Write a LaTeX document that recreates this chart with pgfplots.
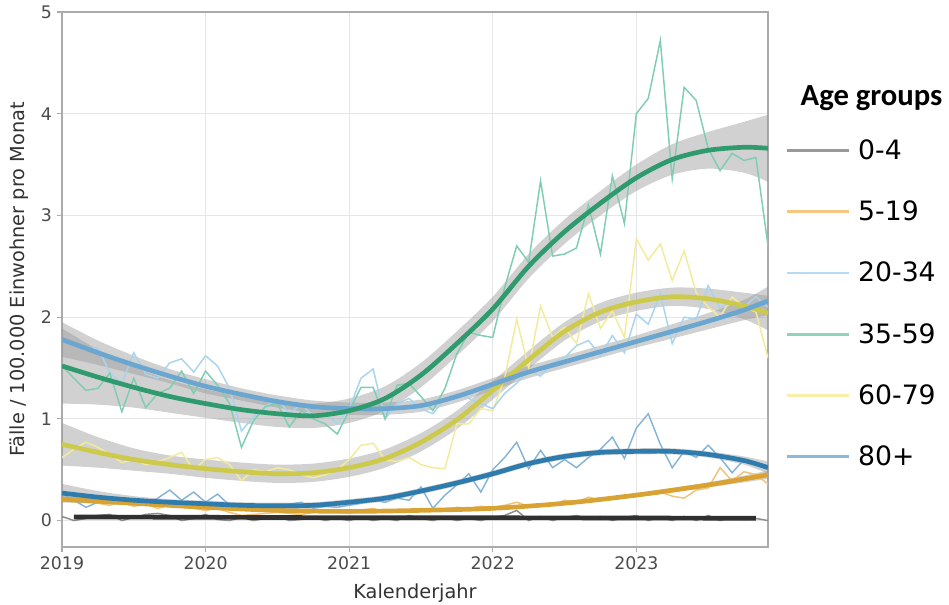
\documentclass[border=0pt]{standalone}
\usepackage{pgfplots}
\pgfplotsset{compat=1.18}
\usepackage{pgfplotstable}
\usepgfplotslibrary{fillbetween}
\usepackage{fontspec}
\setmainfont{DejaVu Sans}
\newfontfamily\titlefont{Carlito}

\definecolor{raw04}{HTML}{8C8C8C}
\definecolor{sm04}{HTML}{303030}
\definecolor{leg04}{HTML}{999999}
\definecolor{raw519}{HTML}{F2C27A}
\definecolor{sm519}{HTML}{D9A334}
\definecolor{leg519}{HTML}{F5C67E}
\definecolor{raw2034}{HTML}{A8D4EE}
\definecolor{sm2034}{HTML}{6AA6CF}
\definecolor{leg2034}{HTML}{B5DBF2}
\definecolor{raw3559}{HTML}{7FCDB2}
\definecolor{sm3559}{HTML}{2F9A6E}
\definecolor{leg3559}{HTML}{8FD3BC}
\definecolor{raw6079}{HTML}{F3EB9A}
\definecolor{sm6079}{HTML}{CDC94A}
\definecolor{leg6079}{HTML}{F7EFAA}
\definecolor{raw80}{HTML}{86B4D6}
\definecolor{sm80}{HTML}{2E7BAE}
\definecolor{leg80}{HTML}{8CBADC}
\definecolor{bandgrey}{HTML}{999999}
\definecolor{gridgrey}{HTML}{E6E6E6}
\definecolor{axisgrey}{HTML}{ABABAB}
\definecolor{labelgrey}{HTML}{4A4A4A}

% monthly values, Faelle / 100.000 Einwohner
\pgfplotstableread{
x        a04  a519 a2034 a3559 a6079 a80
2019.000 0.04 0.22 1.78 1.52 0.62 0.26
2019.083 0.00 0.18 1.72 1.40 0.70 0.20
2019.167 0.02 0.20 1.68 1.28 0.77 0.13
2019.250 0.05 0.17 1.70 1.30 0.72 0.18
2019.333 0.06 0.15 1.45 1.45 0.65 0.20
2019.417 0.00 0.18 1.35 1.07 0.57 0.16
2019.500 0.03 0.14 1.65 1.40 0.60 0.18
2019.583 0.06 0.16 1.44 1.11 0.55 0.15
2019.667 0.07 0.12 1.40 1.25 0.58 0.22
2019.750 0.05 0.15 1.55 1.30 0.62 0.30
2019.833 0.00 0.13 1.59 1.47 0.67 0.20
2019.917 0.02 0.12 1.46 1.25 0.50 0.28
2020.000 0.06 0.10 1.62 1.47 0.60 0.18
2020.083 0.01 0.12 1.52 1.33 0.62 0.26
2020.167 0.00 0.08 1.30 1.15 0.55 0.15
2020.250 0.03 0.05 0.88 0.72 0.39 0.12
2020.333 0.00 0.06 1.02 0.98 0.50 0.13
2020.417 0.02 0.07 1.12 1.12 0.48 0.12
2020.500 0.04 0.08 1.20 1.15 0.52 0.14
2020.583 0.00 0.07 1.05 0.92 0.50 0.16
2020.667 0.01 0.06 1.15 1.08 0.45 0.18
2020.750 0.03 0.08 1.02 1.00 0.42 0.12
2020.833 0.00 0.09 1.05 0.95 0.45 0.14
2020.917 0.02 0.08 0.95 0.85 0.50 0.13
2021.000 0.00 0.07 1.10 1.08 0.60 0.15
2021.083 0.03 0.10 1.40 1.31 0.74 0.17
2021.167 0.00 0.12 1.49 1.31 0.76 0.20
2021.250 0.02 0.08 1.00 1.00 0.60 0.18
2021.333 0.00 0.10 1.15 1.33 0.58 0.22
2021.417 0.05 0.09 1.20 1.35 0.62 0.20
2021.500 0.02 0.12 1.10 1.22 0.55 0.33
2021.583 0.00 0.10 1.05 1.08 0.52 0.12
2021.667 0.03 0.11 1.20 1.30 0.51 0.25
2021.750 0.00 0.13 1.25 1.64 0.95 0.35
2021.833 0.02 0.12 1.20 1.85 0.95 0.46
2021.917 0.00 0.14 1.15 1.82 1.10 0.28
2022.000 0.03 0.13 1.10 1.80 1.08 0.50
2022.083 0.05 0.15 1.25 2.29 1.40 0.62
2022.167 0.10 0.18 1.35 2.70 1.98 0.77
2022.250 0.00 0.14 1.48 2.54 1.50 0.51
2022.333 0.04 0.16 1.42 3.34 2.11 0.69
2022.417 0.00 0.15 1.55 2.60 1.80 0.52
2022.500 0.03 0.20 1.60 2.62 1.90 0.60
2022.583 0.05 0.18 1.72 2.68 1.74 0.52
2022.667 0.02 0.23 1.77 3.10 2.23 0.62
2022.750 0.04 0.20 1.62 2.62 1.89 0.70
2022.833 0.00 0.22 1.82 3.39 2.06 0.82
2022.917 0.03 0.24 1.65 2.92 1.80 0.61
2023.000 0.05 0.26 2.03 4.00 2.77 0.91
2023.083 0.00 0.25 1.93 4.15 2.56 1.05
2023.167 0.03 0.28 2.23 4.72 2.72 0.75
2023.250 0.00 0.24 1.74 3.36 2.36 0.52
2023.333 0.04 0.22 2.00 4.26 2.65 0.68
2023.417 0.00 0.30 1.98 4.13 2.24 0.62
2023.500 0.05 0.32 2.31 3.66 2.10 0.74
2023.583 0.00 0.52 2.09 3.44 2.00 0.62
2023.667 0.03 0.39 2.15 3.61 2.20 0.47
2023.750 0.01 0.48 2.10 3.54 2.10 0.60
2023.833 0.02 0.45 2.20 3.57 2.05 0.55
2023.917 0.00 0.36 2.10 2.70 1.60 0.54
}\raw

% smoothed trends: y and half width e of the band
\pgfplotstableread{
x        y    e
2019.000 1.52 0.37
2019.250 1.41 0.27
2019.500 1.31 0.20
2019.750 1.22 0.16
2020.000 1.15 0.14
2020.250 1.09 0.13
2020.500 1.05 0.13
2020.750 1.03 0.12
2021.000 1.08 0.12
2021.250 1.20 0.12
2021.500 1.43 0.12
2021.750 1.74 0.12
2022.000 2.08 0.12
2022.250 2.50 0.12
2022.500 2.84 0.12
2022.750 3.12 0.12
2023.000 3.37 0.13
2023.250 3.55 0.15
2023.500 3.64 0.18
2023.750 3.67 0.25
2023.917 3.66 0.33
}\tgreen

\pgfplotstableread{
x        y    e
2019.000 1.78 0.17
2019.250 1.65 0.12
2019.500 1.53 0.09
2019.750 1.42 0.07
2020.000 1.32 0.07
2020.250 1.24 0.06
2020.500 1.17 0.06
2020.750 1.12 0.06
2021.000 1.10 0.06
2021.250 1.10 0.06
2021.500 1.13 0.06
2021.750 1.22 0.06
2022.000 1.34 0.06
2022.250 1.46 0.06
2022.500 1.56 0.06
2022.750 1.66 0.06
2023.000 1.76 0.06
2023.250 1.86 0.07
2023.500 1.96 0.08
2023.750 2.07 0.10
2023.917 2.16 0.14
}\tlblue

\pgfplotstableread{
x        y    e
2019.000 0.75 0.21
2019.250 0.67 0.15
2019.500 0.60 0.11
2019.750 0.55 0.09
2020.000 0.51 0.09
2020.250 0.48 0.09
2020.500 0.46 0.09
2020.750 0.47 0.09
2021.000 0.52 0.09
2021.250 0.61 0.09
2021.500 0.77 0.09
2021.750 0.99 0.09
2022.000 1.28 0.09
2022.250 1.58 0.09
2022.500 1.86 0.09
2022.750 2.05 0.09
2023.000 2.15 0.09
2023.250 2.20 0.09
2023.500 2.18 0.10
2023.750 2.11 0.13
2023.917 2.04 0.17
}\tyellow

\pgfplotstableread{
x        y     e
2019.000 0.27  0.09
2019.250 0.23  0.06
2019.500 0.20  0.04
2019.750 0.18  0.03
2020.000 0.165 0.03
2020.250 0.15  0.03
2020.500 0.145 0.03
2020.750 0.15  0.03
2021.000 0.18  0.03
2021.250 0.22  0.03
2021.500 0.29  0.03
2021.750 0.37  0.03
2022.000 0.46  0.03
2022.250 0.56  0.03
2022.500 0.63  0.03
2022.750 0.67  0.03
2023.000 0.68  0.03
2023.250 0.68  0.03
2023.500 0.65  0.03
2023.750 0.59  0.04
2023.917 0.52  0.06
}\tblue

\pgfplotstableread{
x        y    e
2019.000 0.21 0.03
2019.500 0.17 0.02
2020.000 0.13 0.015
2020.500 0.10 0.015
2021.000 0.09 0.015
2021.500 0.10 0.015
2022.000 0.12 0.015
2022.500 0.17 0.015
2023.000 0.25 0.02
2023.500 0.35 0.025
2023.917 0.45 0.04
}\tgold

\pgfplotstableread{
x        y
2019.083 0.035
2020.000 0.032
2021.000 0.028
2022.000 0.027
2023.000 0.025
2023.833 0.022
}\tblack

\begin{document}
\begin{tikzpicture}
\begin{axis}[
  name=ax,
  scale only axis,
  width=529.5pt, height=401.25pt,
  xmin=2019, xmax=2023.917,
  ymin=-0.26, ymax=5,
  xtick={2019,2020,2021,2022,2023},
  ytick={0,1,2,3,4,5},
  /pgf/number format/assume math mode=true,
  x tick label style={/pgf/number format/1000 sep={}},
  ticklabel style={font=\fontsize{13}{15}\selectfont, text=labelgrey},
  tick align=outside, tick pos=left,
  major tick length=4pt,
  tick style={axisgrey, line width=0.8pt},
  axis line style={axisgrey, line width=1.5pt},
  grid=major,
  grid style={gridgrey, line width=0.6pt},
  xlabel={Kalenderjahr},
  ylabel={Fälle / 100.000 Einwohner pro Monat},
  label style={font=\fontsize{14.5}{17}\selectfont, text=black!80},
  xlabel style={at={(axis description cs:0.5,0)}, anchor=center, yshift=-34.5pt},
  ylabel style={at={(axis description cs:-0.0604,0.5)}, anchor=center},
  legend image code/.code={\draw[#1] (0pt,0pt) -- (46.5pt,0pt);},
  legend cell align=left,
  legend style={draw=none, fill=none, at={(1,1)}, anchor=north west,
    xshift=12.75pt, yshift=-93.5pt, inner sep=0pt,
    font=\fontsize{20}{22}\selectfont, row sep=25.6pt,
    /tikz/every odd column/.append style={column sep=4pt}},
]
% monthly raw lines
\addplot[raw04, line width=1.1pt, forget plot] table[x=x, y=a04] {\raw};
\addplot[raw519, line width=1.1pt, forget plot] table[x=x, y=a519] {\raw};
\addplot[raw6079, line width=1.1pt, forget plot] table[x=x, y=a6079] {\raw};
\addplot[raw2034, line width=1.1pt, forget plot] table[x=x, y=a2034] {\raw};
\addplot[raw80, line width=1.1pt, forget plot] table[x=x, y=a80] {\raw};
\addplot[raw3559, line width=1.1pt, forget plot] table[x=x, y=a3559] {\raw};

% confidence bands
\addplot[draw=none, smooth, name path=gu, forget plot] table[x=x, y expr=\thisrow{y}+\thisrow{e}] {\tgreen};
\addplot[draw=none, smooth, name path=gl, forget plot] table[x=x, y expr=\thisrow{y}-\thisrow{e}] {\tgreen};
\addplot[bandgrey, fill opacity=0.45, draw=none, forget plot] fill between[of=gu and gl];
\addplot[draw=none, smooth, name path=bu, forget plot] table[x=x, y expr=\thisrow{y}+\thisrow{e}] {\tlblue};
\addplot[draw=none, smooth, name path=bl, forget plot] table[x=x, y expr=\thisrow{y}-\thisrow{e}] {\tlblue};
\addplot[bandgrey, fill opacity=0.45, draw=none, forget plot] fill between[of=bu and bl];
\addplot[draw=none, smooth, name path=yu, forget plot] table[x=x, y expr=\thisrow{y}+\thisrow{e}] {\tyellow};
\addplot[draw=none, smooth, name path=yl, forget plot] table[x=x, y expr=\thisrow{y}-\thisrow{e}] {\tyellow};
\addplot[bandgrey, fill opacity=0.45, draw=none, forget plot] fill between[of=yu and yl];
\addplot[draw=none, smooth, name path=du, forget plot] table[x=x, y expr=\thisrow{y}+\thisrow{e}] {\tblue};
\addplot[draw=none, smooth, name path=dl, forget plot] table[x=x, y expr=\thisrow{y}-\thisrow{e}] {\tblue};
\addplot[bandgrey, fill opacity=0.45, draw=none, forget plot] fill between[of=du and dl];
\addplot[draw=none, smooth, name path=ou, forget plot] table[x=x, y expr=\thisrow{y}+\thisrow{e}] {\tgold};
\addplot[draw=none, smooth, name path=ol, forget plot] table[x=x, y expr=\thisrow{y}-\thisrow{e}] {\tgold};
\addplot[bandgrey, fill opacity=0.45, draw=none, forget plot] fill between[of=ou and ol];

% smoothed trends
\addplot[sm519, line width=3.5pt, smooth, forget plot] table[x=x, y=y] {\tgold};
\addplot[sm80, line width=3.5pt, smooth, forget plot] table[x=x, y=y] {\tblue};
\addplot[sm6079, line width=3.5pt, smooth, forget plot] table[x=x, y=y] {\tyellow};
\addplot[sm2034, line width=3.5pt, smooth, forget plot] table[x=x, y=y] {\tlblue};
\addplot[sm3559, line width=3.5pt, smooth, forget plot] table[x=x, y=y] {\tgreen};
\addplot[sm04, line width=3.5pt, smooth, forget plot] table[x=x, y=y] {\tblack};

\addlegendimage{leg04, line width=2.2pt}
\addlegendentry{0-4}
\addlegendimage{leg519, line width=2.2pt}
\addlegendentry{5-19}
\addlegendimage{leg2034, line width=2.2pt}
\addlegendentry{20-34}
\addlegendimage{leg3559, line width=2.2pt}
\addlegendentry{35-59}
\addlegendimage{leg6079, line width=2.2pt}
\addlegendentry{60-79}
\addlegendimage{leg80, line width=2.2pt}
\addlegendentry{80+}
\end{axis}
\node[anchor=base west, font=\titlefont\bfseries\fontsize{23}{26}\selectfont]
  at ([xshift=21pt, yshift=-70pt]ax.north east) {Age groups};
\pgfresetboundingbox
\useasboundingbox (-46.5pt,-43.5pt) rectangle (665.25pt,410.25pt);
\end{tikzpicture}
\end{document}
